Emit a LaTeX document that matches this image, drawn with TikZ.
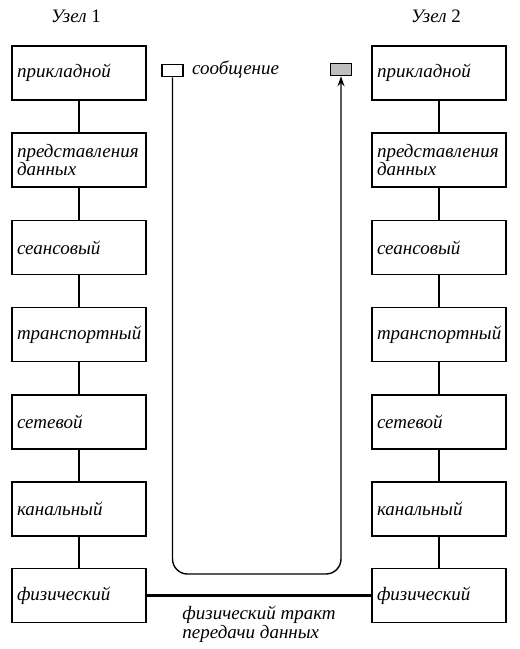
\documentclass[tikz,border=0pt]{standalone}
\usepackage{fontspec}
\setmainfont{Liberation Serif}
\usetikzlibrary{arrows.meta}
\begin{document}
\begin{tikzpicture}[x=1pt,y=-1pt,
  layer/.style={draw,line width=1.5pt,minimum width=134pt,minimum height=54pt,
    text width=124pt,align=left,inner sep=5pt,font=\fontsize{19}{17.5}\selectfont\itshape},
  link/.style={line width=1.4pt},
  msgbox/.style={draw,line width=1.5pt,minimum width=21pt,minimum height=12pt,inner sep=0pt},
  title/.style={font=\fontsize{19}{20}\selectfont},
  lbl/.style={font=\fontsize{19}{19}\selectfont\itshape,inner sep=0pt}]
\useasboundingbox (0,0) rectangle (520,649);
% titles
\node[title] (t1) at (76,16) {\itshape Узел \upshape 1};
\node[title] (t2) at (436,16) {\itshape Узел \upshape 2};
% left stack
\node[layer] (a1) at (79,73) {прикладной};
\node[layer] (a2) at (79,160.2) {представления\\данных};
\node[layer] (a3) at (79,247.4) {сеансовый};
\node[layer] (a4) at (79,334.6) {транспортный};
\node[layer] (a5) at (79,421.8) {сетевой};
\node[layer] (a6) at (79,509) {канальный};
\node[layer] (a7) at (79,595.5) {физический};
% right stack
\node[layer] (b1) at (439,73) {прикладной};
\node[layer] (b2) at (439,160.2) {представления\\данных};
\node[layer] (b3) at (439,247.4) {сеансовый};
\node[layer] (b4) at (439,334.6) {транспортный};
\node[layer] (b5) at (439,421.8) {сетевой};
\node[layer] (b6) at (439,509) {канальный};
\node[layer] (b7) at (439,595.5) {физический};
\foreach \i/\j in {1/2,2/3,3/4,4/5,5/6,6/7}{
  \draw[link] (a\i.south) -- (a\j.north);
  \draw[link] (b\i.south) -- (b\j.north);
}
% message boxes
\node[msgbox] (m1) at (172.5,70.5) {};
\node[msgbox,fill=black!25] (m2) at (341,69.5) {};
\node[lbl,anchor=west] (ml) at (192,70) {сообщение};
\coordinate (bot) at (257,574);
\draw[link,rounded corners=15pt,-{Stealth[length=10pt,width=7pt]}] (m1.south) |- (bot) -| (m2.south);
% physical path
\draw[line width=3pt] (a7.east) -- (b7.west);
\node[lbl,align=left] (pl) at (259,624) {физический тракт\\передачи данных};
\end{tikzpicture}
\end{document}
